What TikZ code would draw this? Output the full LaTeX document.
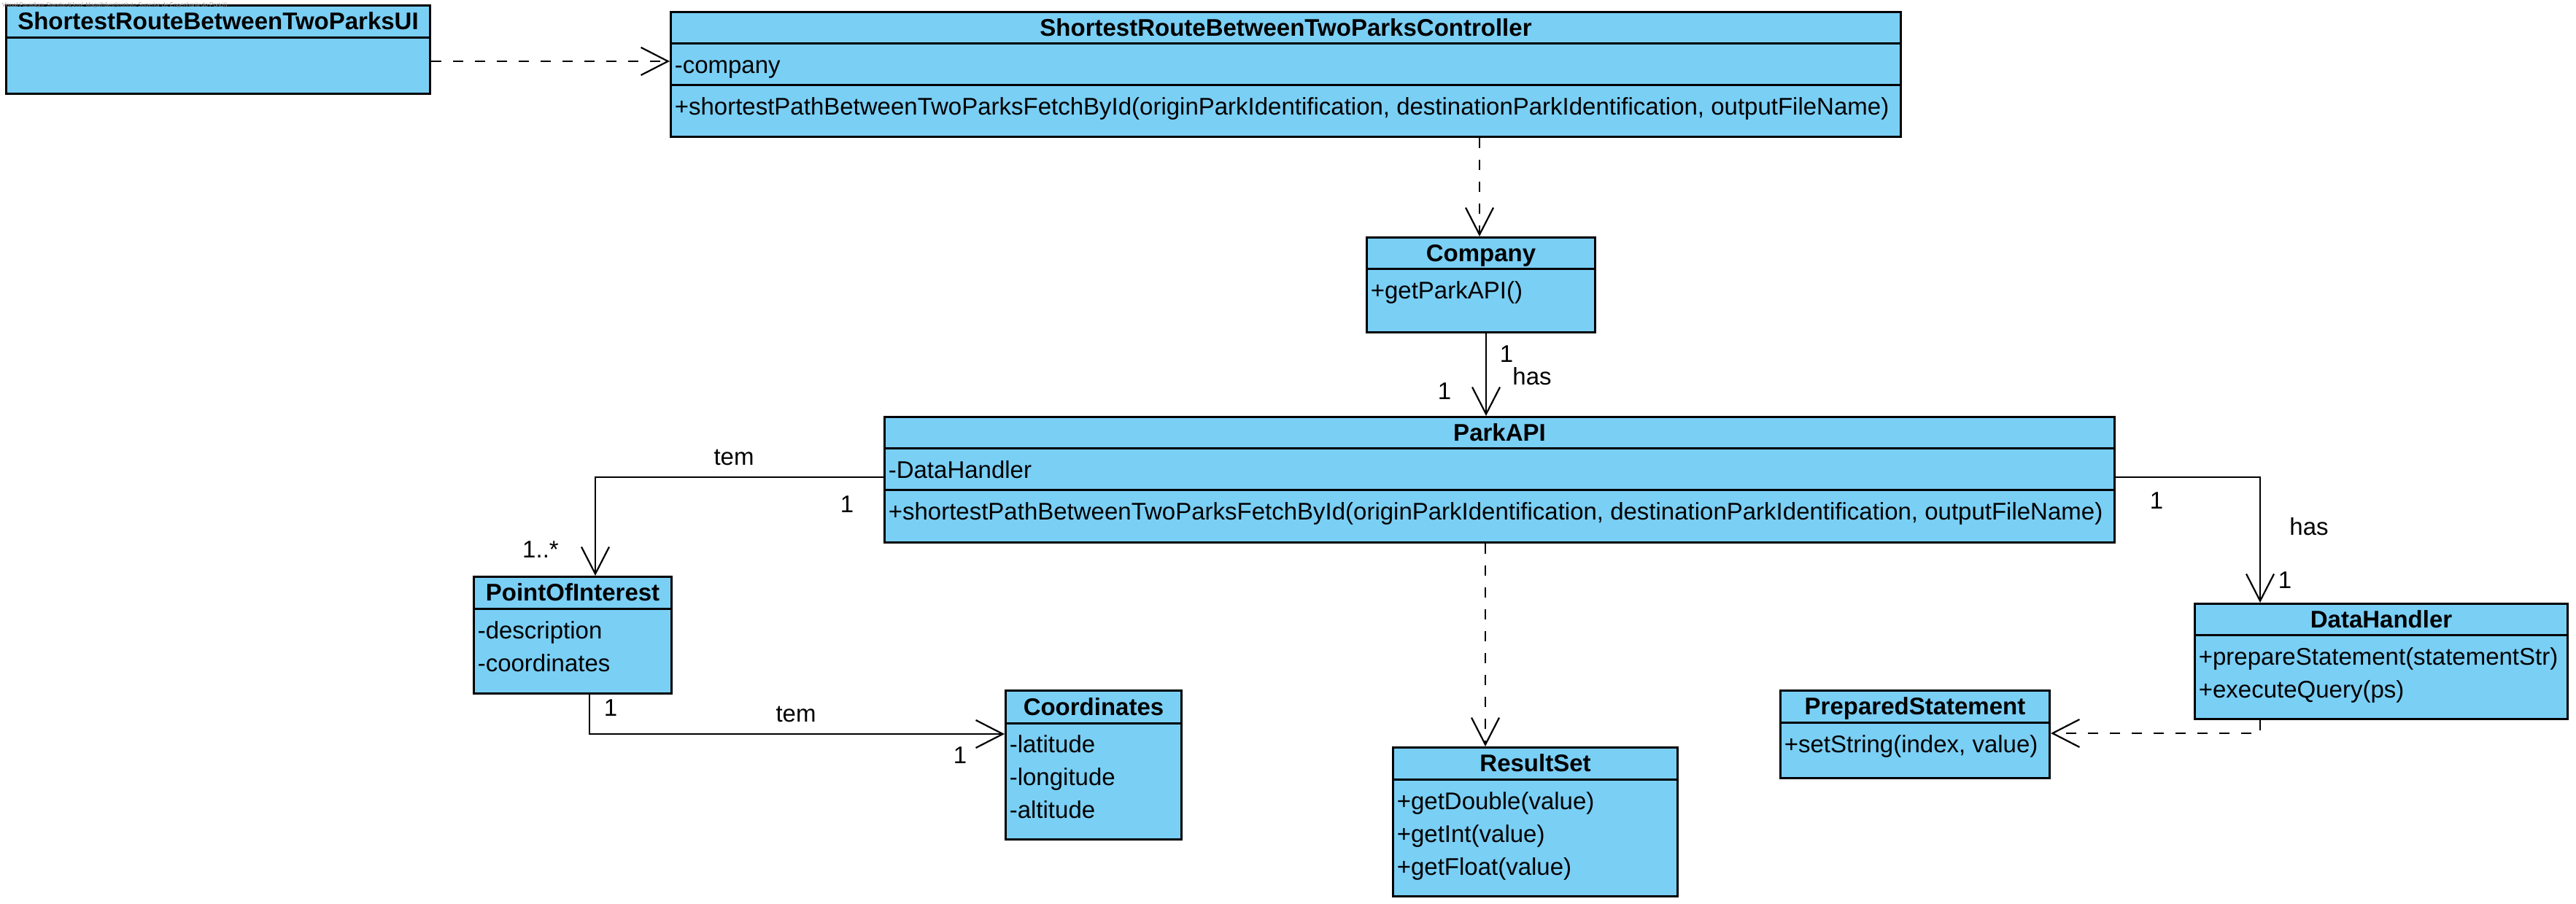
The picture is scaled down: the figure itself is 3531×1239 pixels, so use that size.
\documentclass[tikz,border=0pt]{standalone}
\usepackage{fontspec}
\setmainfont{Liberation Sans}
\usetikzlibrary{arrows.meta}
\definecolor{clsfill}{RGB}{122,207,245}
\definecolor{wmgray}{RGB}{150,150,150}
\newcommand\umlbox[5]{%
 \pgfmathsetmacro\bw{(#4-#2)*0.25}%
 \pgfmathsetmacro\bh{(#5-#3)*0.25}%
 \node[umlcls, minimum width=\bw pt, minimum height=\bh pt, anchor=north west] (#1) at (#2,#3) {};}
\newcommand\umlsep[2]{\draw[sepline] (#1.west |- 0,#2) -- (#1.east |- 0,#2);}
\tikzset{
 umlcls/.style={draw=black, fill=clsfill, line width=0.75pt, inner sep=0pt, rectangle},
 sepline/.style={line width=0.75pt},
 ttl/.style={font=\fontsize{8.25}{10}\selectfont\bfseries, inner sep=0pt, anchor=base},
 mem/.style={font=\fontsize{8.25}{10}\selectfont, inner sep=0pt, anchor=base west},
 lbl/.style={font=\fontsize{8.25}{10}\selectfont, inner sep=0pt, anchor=base},
 conn/.style={line width=0.55pt},
 dep/.style={conn, dash pattern=on 3.5pt off 4pt},
 openarr/.style={-{Straight Barb[length=9.25pt,width=9.5pt]}},
}
\begin{document}
\begin{tikzpicture}[x=0.25pt, y=-0.25pt]
\useasboundingbox (0,0) rectangle (3531,1239);

% UI
\umlbox{ui}{7}{6}{588}{127}
\umlsep{ui}{52}
\node[ttl] (uiT) at (ui.north |- 0,41) {ShortestRouteBetweenTwoParksUI};

% Controller
\umlbox{ctrl}{918}{15}{2604}{186}
\umlsep{ctrl}{60}
\umlsep{ctrl}{117}
\node[ttl] (ctrlT) at (ctrl.north |- 0,50) {ShortestRouteBetweenTwoParksController};
\node[mem] (ctrlA) at (924,101) {-company};
\node[mem] (ctrlM) at (924,158) {+shortestPathBetweenTwoParksFetchById(originParkIdentification, destinationParkIdentification, outputFileName)};

% Company
\umlbox{comp}{1872}{324}{2185}{454}
\umlsep{comp}{369}
\node[ttl] (compT) at (comp.north |- 0,358.5) {Company};
\node[mem] (compM) at (1878,410) {+getParkAPI()};

% ParkAPI
\umlbox{api}{1211}{570}{2897}{742}
\umlsep{api}{615}
\umlsep{api}{672}
\node[ttl] (apiT) at (api.north |- 0,604.5) {ParkAPI};
\node[mem] (apiA) at (1217,656) {-DataHandler};
\node[mem] (apiM) at (1217,713) {+shortestPathBetweenTwoParksFetchById(originParkIdentification, destinationParkIdentification, outputFileName)};

% PointOfInterest
\umlbox{poi}{648}{789}{919}{949}
\umlsep{poi}{834}
\node[ttl] (poiT) at (poi.north |- 0,823.5) {PointOfInterest};
\node[mem] (poiA1) at (654,875) {-description};
\node[mem] (poiA2) at (654,920) {-coordinates};

% Coordinates
\umlbox{coord}{1377}{945}{1618}{1149}
\umlsep{coord}{991}
\node[ttl] (coordT) at (coord.north |- 0,980) {Coordinates};
\node[mem] (coordA1) at (1383,1031) {-latitude};
\node[mem] (coordA2) at (1383,1076) {-longitude};
\node[mem] (coordA3) at (1383,1121) {-altitude};

% ResultSet
\umlbox{rs}{1908}{1023}{2298}{1227}
\umlsep{rs}{1068}
\node[ttl] (rsT) at (rs.north |- 0,1057.5) {ResultSet};
\node[mem] (rsM1) at (1914,1109) {+getDouble(value)};
\node[mem] (rsM2) at (1914,1154) {+getInt(value)};
\node[mem] (rsM3) at (1914,1199) {+getFloat(value)};

% PreparedStatement
\umlbox{ps}{2439}{945}{2808}{1065}
\umlsep{ps}{990}
\node[ttl] (psT) at (ps.north |- 0,979.5) {PreparedStatement};
\node[mem] (psM) at (2445,1031) {+setString(index, value)};

% DataHandler
\umlbox{dh}{3007}{826}{3518}{984}
\umlsep{dh}{870}
\node[ttl] (dhT) at (dh.north |- 0,860) {DataHandler};
\node[mem] (dhM1) at (3013,911) {+prepareStatement(statementStr)};
\node[mem] (dhM2) at (3013,956) {+executeQuery(ps)};

% Connectors
\draw[dep, openarr] (ui.east |- 0,84) -- (ctrl.west |- 0,84);
\draw[dep, openarr] (ctrl.south -| 2028,0) -- (comp.north -| 2028,0);
\draw[conn, openarr] (comp.south -| 2037,0) -- (api.north -| 2037,0);
\draw[conn, openarr] (api.west |- 0,654) -| (poi.north -| 816,0);
\draw[conn, openarr] (poi.south -| 808,0) |- (coord.west |- 0,1006);
\draw[dep, openarr] (api.south -| 2036,0) -- (rs.north -| 2036,0);
\draw[conn, openarr] (api.east |- 0,654) -| (dh.north -| 3098,0);
\draw[dep, openarr] (dh.south -| 3098,0) |- (ps.east |- 0,1005);

% Labels
\node[lbl] (l1) at (2065,497) {1};
\node[lbl] (l2) at (2100,528) {has};
\node[lbl] (l3) at (1980,548) {1};
\node[lbl] (l4) at (1006,638) {tem};
\node[lbl] (l5) at (1161,702) {1};
\node[lbl] (l6) at (741,765) {1..*};
\node[lbl] (l7) at (837,981) {1};
\node[lbl] (l8) at (1091,989) {tem};
\node[lbl] (l9) at (1316,1046) {1};
\node[lbl] (l10) at (2956,698) {1};
\node[lbl] (l11) at (3165,733) {has};
\node[lbl] (l12) at (3132,806) {1};

% Watermark
\node[font=\fontsize{2}{2.4}\selectfont, text=wmgray, anchor=west, inner sep=0pt] (wm) at (2,7) {Visual Paradigm Standard(José Magalhães(Instituto Superior de Engenharia do Porto))};
\end{tikzpicture}
\end{document}
